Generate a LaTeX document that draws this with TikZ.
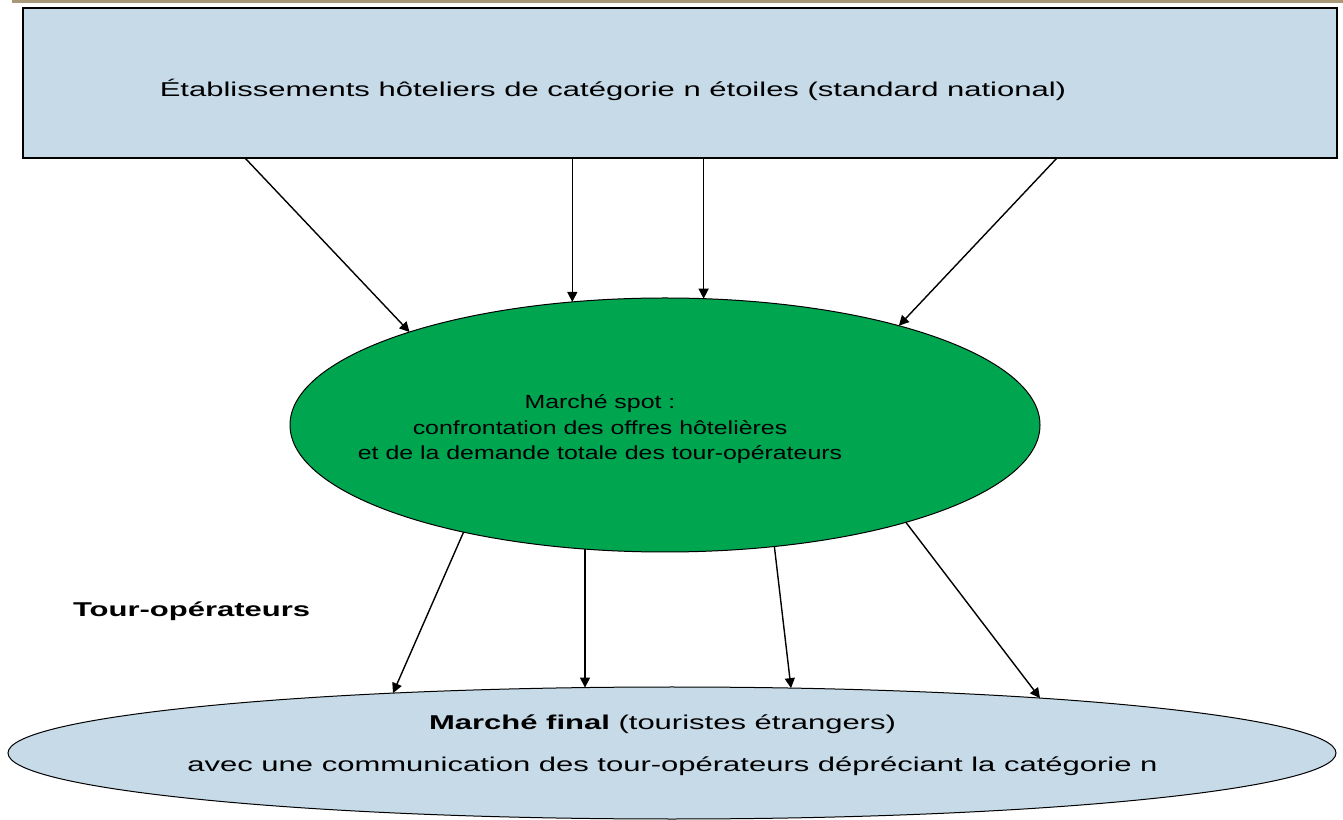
\documentclass[tikz,border=0pt]{standalone}
\usepackage{fontspec}
\setmainfont{Liberation Sans}
\newfontfamily\wideA[FakeStretch=1.55]{Liberation Sans}
\newfontfamily\wideB[FakeStretch=1.31]{Liberation Sans}
\usetikzlibrary{shapes.geometric,arrows.meta,calc}
\definecolor{boxblue}{HTML}{C6DAE8}
\definecolor{spotgreen}{HTML}{00A550}
\definecolor{tanbar}{HTML}{A89878}
\tikzset{
  arr/.style={-{Triangle[length=10pt,width=10pt]}, line width=1.4pt, black},
  lbl/.style={inner sep=0pt, outer sep=0pt, text=black},
}
\begin{document}
\begin{tikzpicture}[x=1pt,y=1pt]
\useasboundingbox (0,0) rectangle (1343,819);
\fill[tanbar] (12,815.5) rectangle (1343,819);
\node[draw, line width=1.5pt, fill=boxblue, minimum width=1314pt, minimum height=150pt,
      anchor=north west, outer sep=0pt, inner sep=0pt] (top) at (23,811) {};
\node[lbl, anchor=base, font={\fontsize{20}{24}\wideA}] (toptxt) at (613,722)
  {Établissements hôteliers de catégorie n étoiles (standard national)};
\node[ellipse, draw, line width=1pt, fill=spotgreen, minimum width=750pt, minimum height=254pt,
      inner sep=0pt, outer sep=0pt] (green) at (665,394) {};
\node[lbl, align=center, font={\fontsize{19}{25.5}\wideB}] (greentxt) at (600,390)
  {Marché spot :\\ confrontation des offres hôtelières\\ et de la demande totale des tour-opérateurs};
\node[ellipse, draw, line width=1pt, fill=boxblue, minimum width=1328pt, minimum height=132pt,
      inner sep=0pt, outer sep=0pt] (bot) at (672,66) {};
\node[lbl, anchor=base, font={\fontsize{20}{24}\wideA}] (bottxt1) at (662.5,89)
  {\textbf{Marché final} (touristes étrangers)};
\node[lbl, anchor=base, font={\fontsize{20}{24}\wideA}] (bottxt2) at (672.5,48)
  {avec une communication des tour-opérateurs  dépréciant la catégorie n};
\node[lbl, anchor=base west, font={\fontsize{20}{24}\wideA}] (to) at (73,202)
  {\textbf{Tour-opérateurs}};
% end points on the flat final-market ellipse
\coordinate (b1) at ($(bot.center)+(-279,59.9)$);
\coordinate (b2) at ($(bot.center)+(-87,65.4)$);
\coordinate (b3) at ($(bot.center)+(119,64.9)$);
\coordinate (b4) at ($(bot.center)+(368,54.9)$);
% arrows top box -> spot market
\draw[arr] ($(top.south west)+(222,0)$) -- (green.160.2);
\draw[arr] (green.127.7 |- top.south) -- (green.127.7);
\draw[arr] (green.73.3 |- top.south) -- (green.73.3);
\draw[arr] ($(top.south west)+(1034,0)$) -- (green.23.3);
% arrows spot market -> final market
\draw[arr] (green.208.4) -- (b1);
\draw[arr] (b2 |- green.237.2) -- (b2);
\draw[arr] (green.312.7) -- (b3);
\draw[arr] (green.338.7) -- (b4);
\end{tikzpicture}
\end{document}
